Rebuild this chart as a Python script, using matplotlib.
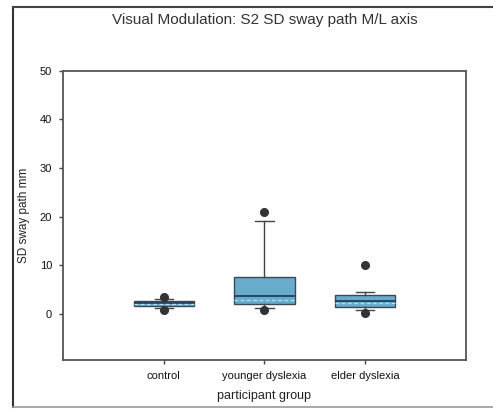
import matplotlib
matplotlib.use("Agg")
import matplotlib.pyplot as plt
from matplotlib.lines import Line2D

plt.rcParams['font.family'] = ['Liberation Sans', 'DejaVu Sans']

# groupes et statistiques des boites
groups = ["control", "younger dyslexia", "elder dyslexia"]
q1 = [1.7, 2.0, 1.3]
med = [2.2, 3.7, 2.7]
q3 = [2.7, 7.6, 3.9]
mean = [2.0, 2.9, 2.2]
whis_lo = [1.2, 1.2, 0.7]
whis_hi = [3.0, 19.0, 4.4]
fliers = [[3.4, 0.8], [21.0, 0.8], [10.1, 0.2]]

stats = []
for i in range(len(groups)):
    stats.append(dict(label=groups[i], q1=q1[i], med=med[i], q3=q3[i], mean=mean[i],
                      whislo=whis_lo[i], whishi=whis_hi[i], fliers=fliers[i]))

fig = plt.figure(figsize=(4.93, 4.09), dpi=100)
ax = fig.add_axes([0.128, 0.121, 0.817, 0.706])

ax.bxp(stats, positions=[1, 2, 3], widths=0.6, patch_artist=True,
       showmeans=True, meanline=True,
       boxprops=dict(facecolor="#67abcd", edgecolor="#3a4a55", linewidth=1.0),
       medianprops=dict(color="#1f3f5f", linewidth=1.3),
       meanprops=dict(color="#b9dcec", linestyle=(0, (3, 2)), linewidth=0.9),
       whiskerprops=dict(color="#444444", linewidth=1.0),
       capprops=dict(color="#444444", linewidth=1.0),
       capwidths=0.18,
       flierprops=dict(marker="o", markerfacecolor="#333333", markeredgecolor="#333333",
                       markersize=5.5))

ax.set_xlim(0, 4)
ax.set_ylim(-9.4, 50)
ax.set_yticks([0, 10, 20, 30, 40, 50])
ax.set_xticks([1, 2, 3])
ax.set_xticklabels(groups)
ax.tick_params(axis="both", direction="out", length=3, width=1, colors="#444444",
               labelcolor="#111111", labelsize=8, pad=5)
for s in ax.spines.values():
    s.set_color("#555555")
    s.set_linewidth(1.3)

ax.set_ylabel("SD sway path mm", fontsize=8.5, color="#222222", labelpad=7)
ax.set_xlabel("participant group", fontsize=9, color="#222222", labelpad=7)
fig.text(0.537, 0.951, "Visual Modulation: S2 SD sway path M/L axis",
         ha="center", va="center", fontsize=11, color="#333333")

# cadre exterieur
fig.add_artist(Line2D([0.026, 0.026], [0.005, 0.983], color="#333333", linewidth=1.5))
fig.add_artist(Line2D([0.026, 1.0], [0.983, 0.983], color="#444444", linewidth=1.5))
fig.add_artist(Line2D([0.026, 1.0], [0.005, 0.005], color="#999999", linewidth=1.2))

fig.savefig("out.png", dpi=100)
